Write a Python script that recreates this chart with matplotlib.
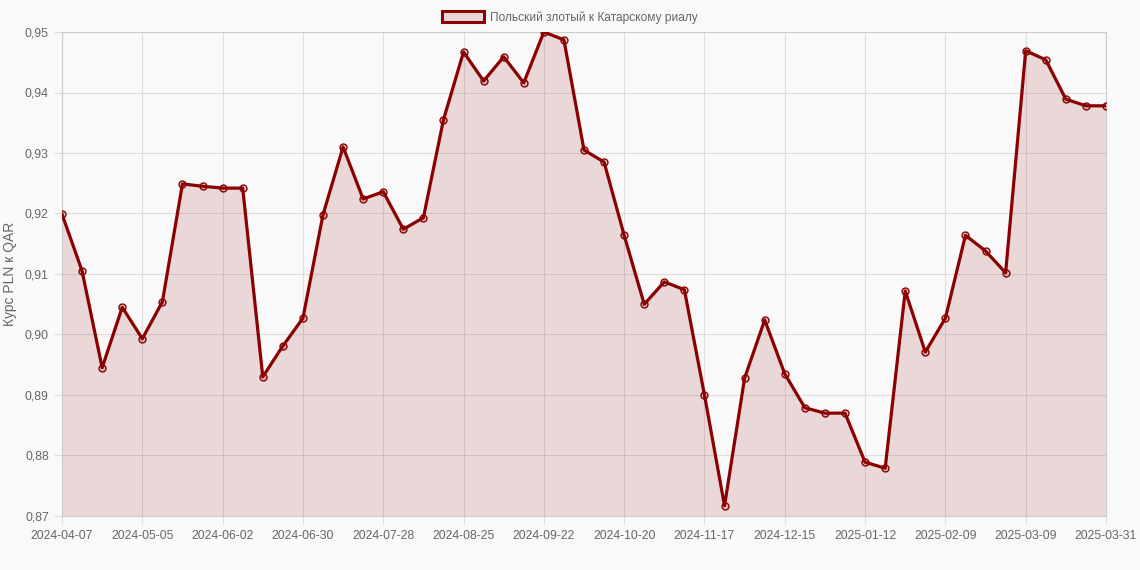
import matplotlib.pyplot as plt

plt.rcParams["font.family"] = ["Liberation Sans", "DejaVu Sans"]

dates = [
    "2024-04-07", "2024-04-14", "2024-04-21", "2024-04-28", "2024-05-05",
    "2024-05-12", "2024-05-19", "2024-05-26", "2024-06-02", "2024-06-09",
    "2024-06-16", "2024-06-23", "2024-06-30", "2024-07-07", "2024-07-14",
    "2024-07-21", "2024-07-28", "2024-08-04", "2024-08-11", "2024-08-18",
    "2024-08-25", "2024-09-01", "2024-09-08", "2024-09-15", "2024-09-22",
    "2024-09-29", "2024-10-06", "2024-10-13", "2024-10-20", "2024-10-27",
    "2024-11-03", "2024-11-10", "2024-11-17", "2024-11-24", "2024-12-01",
    "2024-12-08", "2024-12-15", "2024-12-22", "2024-12-29", "2025-01-05",
    "2025-01-12", "2025-01-19", "2025-01-26", "2025-02-02", "2025-02-09",
    "2025-02-16", "2025-02-23", "2025-03-02", "2025-03-09", "2025-03-16",
    "2025-03-23", "2025-03-30", "2025-03-31",
]
rates = [
    0.9199, 0.9105, 0.8945, 0.9045, 0.8993, 0.9054, 0.9249, 0.9245, 0.9242,
    0.9242, 0.8930, 0.8981, 0.9027, 0.9198, 0.9310, 0.9224, 0.9236, 0.9174,
    0.9193, 0.9355, 0.9467, 0.9419, 0.9459, 0.9416, 0.9500, 0.9487, 0.9305,
    0.9285, 0.9164, 0.9050, 0.9087, 0.9074, 0.8900, 0.8717, 0.8928, 0.9024,
    0.8935, 0.8879, 0.8870, 0.8870, 0.8789, 0.8779, 0.9072, 0.8971, 0.9027,
    0.9164, 0.9138, 0.9102, 0.9469, 0.9454, 0.9389, 0.9378, 0.9378,
]
y_ticks = [0.87, 0.88, 0.89, 0.90, 0.91, 0.92, 0.93, 0.94, 0.95]
series_label = "Польский злотый к Катарскому риалу"
y_label = "Курс PLN к QAR"

line_color = "#8b0000"
bg = "#f9f9f9"
text_color = "#666666"

fig = plt.figure(figsize=(11.4, 5.7), dpi=100, facecolor=bg)
ax = fig.add_axes([62 / 1140, 1 - 516 / 570, (1106 - 62) / 1140, (516 - 32) / 570])
ax.set_facecolor(bg)

x = list(range(len(dates)))
ax.fill_between(x, rates, 0.87, color=line_color, alpha=0.13, linewidth=0, zorder=1)
ax.plot(x, rates, color=line_color, linewidth=2.3, zorder=3,
        marker="o", markersize=5, markerfacecolor=(0.545, 0, 0, 0.15),
        markeredgecolor=line_color, markeredgewidth=1.0)

ax.set_xlim(0, len(dates) - 1)
ax.set_ylim(0.87, 0.95)
tick_idx = list(range(0, len(dates) - 1, 4)) + [len(dates) - 1]
ax.set_xticks(tick_idx)
ax.set_xticklabels([dates[i] for i in tick_idx])
ax.set_yticks(y_ticks)
ax.set_yticklabels([f"{v:.2f}".replace(".", ",") for v in y_ticks])

ax.grid(True, color="#dddddd", linewidth=0.8, zorder=0)
ax.set_axisbelow(True)
for s in ax.spines.values():
    s.set_color("#cccccc")
    s.set_linewidth(0.8)
ax.tick_params(axis="both", colors="#dddddd", labelcolor=text_color,
               labelsize=8.8, length=6, width=0.8)
ax.tick_params(axis="x", pad=4)

ax.set_ylabel(y_label, color=text_color, fontsize=10, labelpad=4)
ax.yaxis.set_label_coords(-45 / 1044, 0.5)

handle = plt.Rectangle((0, 0), 1, 1, facecolor="#ead8d8", edgecolor=line_color, linewidth=2.2)
fig.legend([handle], [series_label], loc="upper center", bbox_to_anchor=(0.5, 1.0),
           frameon=False, fontsize=8.6, labelcolor=text_color,
           handlelength=3.5, handleheight=1.1, handletextpad=0.5)

fig.savefig("out.png", dpi=100, facecolor=bg)
